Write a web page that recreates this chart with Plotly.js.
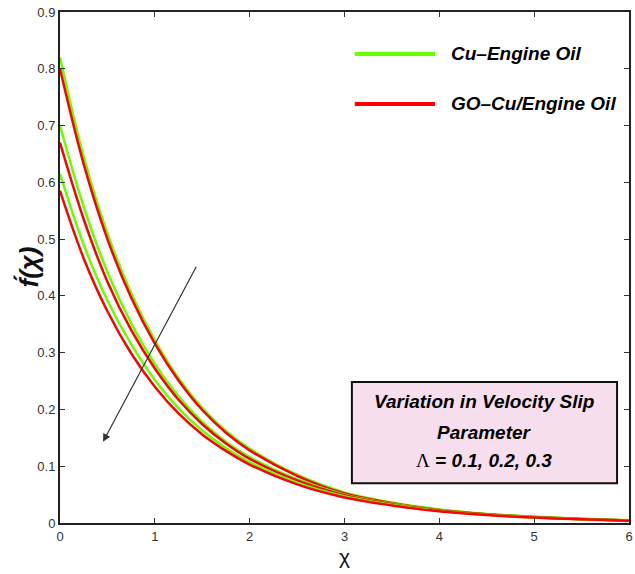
<!DOCTYPE html>
<html>
<head>
<meta charset="utf-8">
<script src="https://cdn.plot.ly/plotly-3.0.1.min.js"></script>
<style>html,body{margin:0;padding:0;background:#fff;}#chart{width:635px;height:574px;}</style>
</head>
<body>
<div id="chart"></div>
<script>
// x positions (chi)
const chi = [0, 0.25, 0.5, 0.75, 1, 1.25, 1.5, 1.75, 2, 2.5, 3, 3.5, 4, 4.5, 5, 5.5, 6];
// Cu-Engine Oil, Lambda = 0.1, 0.2, 0.3
const cuL1 = [0.82, 0.645, 0.51, 0.405, 0.322, 0.255, 0.203, 0.162, 0.131, 0.085, 0.054, 0.036, 0.024, 0.016, 0.011, 0.0075, 0.005];
const cuL2 = [0.70, 0.557, 0.442, 0.352, 0.28, 0.223, 0.178, 0.143, 0.116, 0.077, 0.050, 0.034, 0.023, 0.0155, 0.0105, 0.007, 0.0045];
const cuL3 = [0.615, 0.49, 0.392, 0.315, 0.252, 0.202, 0.163, 0.132, 0.107, 0.071, 0.047, 0.032, 0.021, 0.0145, 0.0098, 0.0066, 0.0042];
// GO-Cu/Engine Oil, Lambda = 0.1, 0.2, 0.3
const goL1 = [0.80, 0.632, 0.50, 0.397, 0.316, 0.251, 0.199, 0.159, 0.128, 0.083, 0.052, 0.035, 0.023, 0.0155, 0.0105, 0.007, 0.0045];
const goL2 = [0.67, 0.535, 0.425, 0.34, 0.272, 0.217, 0.174, 0.14, 0.113, 0.075, 0.049, 0.033, 0.022, 0.015, 0.010, 0.0068, 0.0043];
const goL3 = [0.585, 0.466, 0.373, 0.299, 0.24, 0.193, 0.156, 0.127, 0.103, 0.068, 0.045, 0.031, 0.0205, 0.014, 0.0095, 0.0064, 0.004];

const xTicks = [0, 1, 2, 3, 4, 5, 6];
const yTicks = [0, 0.1, 0.2, 0.3, 0.4, 0.5, 0.6, 0.7, 0.8, 0.9];
const legendNames = ['Cu\u2013Engine Oil', 'GO\u2013Cu/Engine Oil'];

const GREEN = '#66ff00';
const RED = '#ff0000';

function line(y, color) {
  return {x: chi, y: y, type: 'scatter', mode: 'lines', showlegend: false,
          line: {color: color, width: 2.5, shape: 'spline', smoothing: 1}};
}
const traces = [
  line(cuL1, GREEN), line(goL1, RED),
  line(cuL2, GREEN), line(goL2, RED),
  line(cuL3, GREEN), line(goL3, RED)
];

const tickFont = {family: 'Liberation Sans Narrow, Liberation Sans, Arial', size: 13, color: '#333'};
const boldIt = {family: 'Liberation Sans, Arial', size: 19, color: '#000'};

const layout = {
  width: 635, height: 574,
  margin: {l: 60, r: 6, t: 12, b: 51},
  paper_bgcolor: '#fff', plot_bgcolor: '#fff',
  showlegend: false,
  xaxis: {
    range: [0, 6], tickvals: xTicks, ticktext: xTicks.map(String),
    ticks: 'inside', ticklen: 5, tickwidth: 1, tickcolor: '#333',
    showline: true, linecolor: '#222', linewidth: 2, mirror: 'allticks',
    showgrid: false, zeroline: false, tickfont: tickFont
  },
  yaxis: {
    range: [0, 0.9], tickvals: yTicks, ticktext: yTicks.map(v => String(v)),
    ticks: 'inside', ticklen: 5, tickwidth: 1, tickcolor: '#333',
    showline: true, linecolor: '#222', linewidth: 2, mirror: 'allticks',
    showgrid: false, zeroline: false, tickfont: tickFont
  },
  shapes: [
    {type: 'line', xref: 'paper', yref: 'paper', x0: 0.518, x1: 0.659, y0: 0.918, y1: 0.918,
     line: {color: GREEN, width: 4}},
    {type: 'line', xref: 'paper', yref: 'paper', x0: 0.518, x1: 0.659, y0: 0.820, y1: 0.820,
     line: {color: RED, width: 4}},
    {type: 'rect', xref: 'paper', yref: 'paper', x0: 0.513, x1: 0.979, y0: 0.078, y1: 0.276,
     fillcolor: '#f6deed', line: {color: '#111', width: 2}}
  ],
  annotations: [
    {xref: 'paper', yref: 'paper', x: 0.683, y: 0.918, xanchor: 'left', yanchor: 'middle',
     text: '<b><i>' + legendNames[0] + '</i></b>', showarrow: false, font: boldIt},
    {xref: 'paper', yref: 'paper', x: 0.683, y: 0.820, xanchor: 'left', yanchor: 'middle',
     text: '<b><i>' + legendNames[1] + '</i></b>', showarrow: false, font: boldIt},
    {xref: 'paper', yref: 'paper', x: 0.746, y: 0.237, xanchor: 'center', yanchor: 'middle',
     text: '<b><i>Variation in Velocity Slip</i></b>', showarrow: false, font: boldIt},
    {xref: 'paper', yref: 'paper', x: 0.746, y: 0.178, xanchor: 'center', yanchor: 'middle',
     text: '<b><i>Parameter</i></b>', showarrow: false, font: boldIt},
    {xref: 'paper', yref: 'paper', x: 0.746, y: 0.123, xanchor: 'center', yanchor: 'middle',
     text: '<span style="font-family:Liberation Serif">\u039B</span> <b><i>= 0.1, 0.2, 0.3</i></b>',
     showarrow: false, font: boldIt},
    // arrow
    {xref: 'x', yref: 'y', axref: 'x', ayref: 'y', x: 0.454, y: 0.143, ax: 1.445, ay: 0.454,
     text: '', showarrow: true, arrowhead: 2, arrowsize: 1.3, arrowwidth: 1.2, arrowcolor: '#333'},
    // axis titles
    {xref: 'paper', yref: 'paper', x: 0.5, y: 0, yshift: -20, xanchor: 'center', yanchor: 'top',
     text: '\u03C7', showarrow: false, font: {family: 'Liberation Sans, Arial', size: 21, color: '#111'}},
    {xref: 'paper', yref: 'paper', x: 0, xshift: -32, y: 0.5, xanchor: 'center', yanchor: 'middle',
     text: '<b><i>f\u0301(\u03C7)</i></b>', textangle: -90, showarrow: false,
     font: {family: 'Liberation Sans, Arial', size: 26, color: '#111'}}
  ]
};

Plotly.newPlot('chart', traces, layout, {displayModeBar: false, staticPlot: true});
</script>
</body>
</html>
